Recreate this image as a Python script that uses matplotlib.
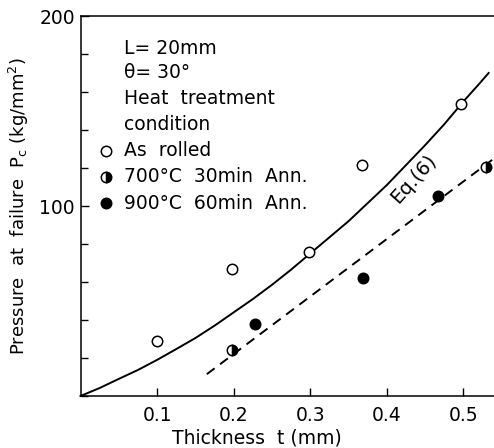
import matplotlib
matplotlib.use("Agg")
import matplotlib.pyplot as plt
from matplotlib.ticker import MultipleLocator, FixedLocator

plt.rcParams['font.family'] = ['DejaVu Sans']

# Data
as_rolled_t = [0.10, 0.198, 0.298, 0.367, 0.497]
as_rolled_p = [29, 67, 76, 121.5, 153.7]

ann700_t = [0.198, 0.529]
ann700_p = [24, 120.5]

ann900_t = [0.228, 0.369, 0.467]
ann900_p = [38, 62, 105]

eq6_t = [0.0, 0.025, 0.05, 0.075, 0.10, 0.125, 0.15, 0.175, 0.20, 0.225, 0.25, 0.275,
         0.30, 0.325, 0.35, 0.375, 0.40, 0.425, 0.45, 0.475, 0.50, 0.52, 0.533]
eq6_p = [0.0, 4.2, 9.0, 13.7, 19.0, 24.7, 30.5, 37.0, 44.0, 51.0, 58.5, 66.5,
         75.0, 83.5, 92.0, 101.5, 111.0, 121.5, 132.0, 143.0, 155.0, 164.0, 170.0]

dash_t = [0.165, 0.54]
dash_p = [11.5, 125.0]

x_ticks = [0.1, 0.2, 0.3, 0.4, 0.5]
x_labels = ['0.1', '0.2', '0.3', '0.4', '0.5']
y_major = [100, 200]

legend_lines = ['L= 20mm', 'θ= 30°', 'Heat  treatment', 'condition']
series_labels = ['As  rolled', '700°C  30min  Ann.', '900°C  60min  Ann.']

fig = plt.figure(figsize=(4.94, 4.48), dpi=100)
ax = fig.add_axes([80.5/494, 52/448, 1 - 80.5/494, 380/448])

ax.plot(eq6_t, eq6_p, color='black', lw=1.4, clip_on=False)
ax.plot(dash_t, dash_p, color='black', lw=1.4, dashes=(5, 3.5))

ms = 7.5
ax.plot(as_rolled_t, as_rolled_p, 'o', ms=ms, mfc='white', mec='black', mew=1.1, zorder=5, clip_on=False)
ax.plot(ann700_t, ann700_p, 'o', ms=ms, fillstyle='right', mfc='black', mfcalt='white',
        mec='black', mew=1.1, zorder=5, clip_on=False)
ax.plot(ann900_t, ann900_p, 'o', ms=ms, mfc='black', mec='black', mew=1.1, zorder=5, clip_on=False)

ax.set_xlim(0, 0.54)
ax.set_ylim(0, 200)
ax.xaxis.set_major_locator(FixedLocator(x_ticks))
ax.set_xticklabels(x_labels)
ax.yaxis.set_major_locator(FixedLocator(y_major))
ax.yaxis.set_minor_locator(MultipleLocator(20))
ax.tick_params(which='both', direction='in', top=False, right=False, labelsize=13.5, width=1)
ax.tick_params(which='major', length=6)
ax.tick_params(which='minor', length=5)
ax.tick_params(axis='y', pad=4)
ax.tick_params(axis='x', pad=7)
ax.spines['right'].set_visible(False)
for s in ['left', 'bottom', 'top']:
    ax.spines[s].set_linewidth(1.1)

ax.set_xlabel('Thickness  t (mm)', fontsize=13.5)
ax.xaxis.set_label_coords(0.427, -0.085)
ax.set_ylabel('Pressure  at  failure  P$_\\mathregular{c}$ (kg/mm$^\\mathregular{2}$)', fontsize=13, labelpad=6)

# Legend / annotation block (in pixel-based axes fraction)
def px2ax(x, y):
    return ((x - 80.5) / (494 - 80.5), (396 - y) / 380)

ys = [48, 72, 98, 124]
for txt, yy in zip(legend_lines, ys):
    ax.text(*px2ax(124, yy), txt, transform=ax.transAxes, fontsize=13.5, va='center', ha='left')

sy = [151, 177, 203]
styles = [dict(mfc='white'), dict(fillstyle='right', mfc='black', mfcalt='white'), dict(mfc='black')]
for txt, yy, st in zip(series_labels, sy, styles):
    mx, my = px2ax(106, yy)
    ax.plot([mx], [my], 'o', transform=ax.transAxes, ms=ms, mec='black', mew=1.1, **st)
    ax.text(*px2ax(124, yy), txt, transform=ax.transAxes, fontsize=13.5, va='center', ha='left')

ax.text(0.435, 114, 'Eq.(6)', fontsize=14, rotation=48, ha='center', va='center')

fig.savefig('out.png', dpi=100)
